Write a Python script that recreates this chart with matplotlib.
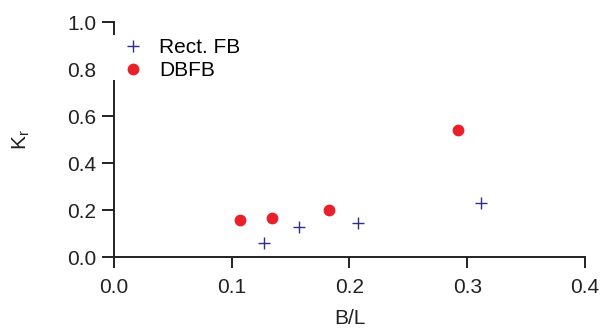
import matplotlib
matplotlib.use('Agg')
import matplotlib.pyplot as plt
from matplotlib.patches import Rectangle

plt.rcParams['font.family'] = ['Liberation Sans', 'DejaVu Sans']

# Rect. FB points
rect_bl = [0.127, 0.157, 0.207, 0.312]
rect_kr = [0.060, 0.129, 0.145, 0.230]

# DBFB points
dbfb_bl = [0.107, 0.134, 0.183, 0.292]
dbfb_kr = [0.156, 0.164, 0.200, 0.542]

xticks = [0.0, 0.1, 0.2, 0.3, 0.4]
yticks = [0.0, 0.2, 0.4, 0.6, 0.8, 1.0]

fig = plt.figure(figsize=(6.05, 3.29), dpi=100)
ax = fig.add_axes([0.1884, 0.2188, 0.7785, 0.7142])

ax.plot(rect_bl, rect_kr, linestyle='none', marker='+', markersize=9,
        markeredgewidth=1.0, color='#2e2e8c', label='Rect. FB', clip_on=False)
ax.plot(dbfb_bl, dbfb_kr, linestyle='none', marker='o', markersize=8.5,
        color='#e8202a', markeredgewidth=0, label='DBFB', clip_on=False)

ax.set_xlim(0, 0.4)
ax.set_ylim(0, 1.0)
ax.set_xticks(xticks)
ax.set_yticks(yticks)
ax.set_xticklabels(['%.1f' % v for v in xticks])
ax.set_yticklabels(['%.1f' % v for v in yticks])

for s in ['top', 'right']:
    ax.spines[s].set_visible(False)
for s in ['left', 'bottom']:
    ax.spines[s].set_linewidth(1.4)
    ax.spines[s].set_color('#222222')
ax.tick_params(direction='out', length=8, width=1.4, colors='#222222',
               labelsize=15, labelcolor='#222222')
ax.tick_params(axis='x', pad=7)
ax.tick_params(axis='y', pad=4, length=8.5)

ax.set_xlabel('B/L', fontsize=15, color='#222222', labelpad=9)
ax.set_ylabel('K$_\\mathregular{r}$', fontsize=15, color='#222222')
ax.yaxis.set_label_coords(-0.174, 0.5)

# white gap in the left spine behind the legend
ax.add_patch(Rectangle((-0.01, 0.754), 0.02, 0.192, transform=ax.transData,
                       facecolor='white', edgecolor='none', zorder=3,
                       clip_on=False))

leg = ax.legend(loc='upper left', bbox_to_anchor=(0.2033, 0.8845),
                bbox_transform=fig.transFigure, fontsize=15, frameon=False,
                handlelength=1.0, handletextpad=0.75, labelspacing=0.2,
                borderpad=0, borderaxespad=0)

fig.savefig('out.png', dpi=100)
